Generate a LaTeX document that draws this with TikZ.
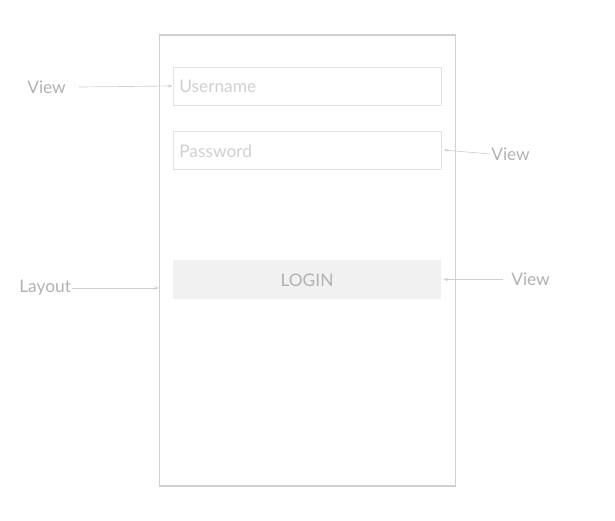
\documentclass[tikz,border=0pt]{standalone}
\usepackage{fontspec}
\setmainfont{Lato}
\usepackage{xcolor}
\usetikzlibrary{arrows.meta}

\definecolor{frameline}{RGB}{208,208,208}
\definecolor{fieldline}{RGB}{226,226,226}
\definecolor{labeltext}{RGB}{178,178,178}
\definecolor{hinttext}{RGB}{208,208,208}
\definecolor{buttonfill}{RGB}{241,241,241}

\tikzset{
  field/.style={draw=fieldline, line width=0.6pt, minimum width=268*0.75pt, minimum height=38*0.75pt, inner sep=0pt},
  tag/.style={text=labeltext, inner sep=0.75pt, font=\fontsize{13}{15}\selectfont},
  pointer/.style={draw=frameline, line width=0.5pt, -{Stealth[length=3.5pt,width=2.5pt]}}
}

\begin{document}
\begin{tikzpicture}[x=0.75pt,y=0.75pt,yscale=-1,xscale=1]
  \useasboundingbox (0,0) rectangle (615,521);

  %Shape: Rectangle (screen)
  \node [draw=frameline, line width=0.8pt, minimum width=296*0.75pt, minimum height=451*0.75pt, inner sep=0pt] (screen) at (307.5,260.5) {};

  %Shape: Rectangle (username field)
  \node [field] (user) at (307,86) {};
  %Shape: Rectangle (password field)
  \node [field] (pass) at (307,150) {};
  %Shape: Rectangle (login button)
  \node [field, draw=none, fill=buttonfill, minimum height=39*0.75pt] (login) at (307,279.5) {};

  % Text Node
  \node [anchor=west, text=hinttext, inner sep=0.75pt, font=\fontsize{13}{15}\selectfont] (usertext) at (178,86) {Username};
  % Text Node
  \node [anchor=west, text=hinttext, inner sep=0.75pt, font=\fontsize{13}{15}\selectfont] (passtext) at (178,151) {Password};
  % Text Node
  \node [text=labeltext, inner sep=0.75pt, font=\fontsize{13}{15}\selectfont] (logintext) at (307,280) {LOGIN};

  % Text Node
  \node [tag, anchor=west] (viewa) at (26,87) {View};
  % Text Node
  \node [tag, anchor=west] (viewb) at (490,154) {View};
  % Text Node
  \node [tag, anchor=west] (layout) at (18,288) {Layout};
  % Text Node
  \node [tag, anchor=west] (viewc) at (510,279) {View};

  %Straight Lines
  \draw [pointer] ([xshift=12*0.75pt]viewa.east) -- (user.west);
  \draw [pointer] (viewb.west) -- ([xshift=2*0.75pt]pass.east);
  \draw [pointer] (layout.east) -- (screen.west |- layout.east);
  \draw [pointer] ([xshift=-7*0.75pt]viewc.west |- login.east) -- ([xshift=2*0.75pt]login.east);

\end{tikzpicture}
\end{document}
